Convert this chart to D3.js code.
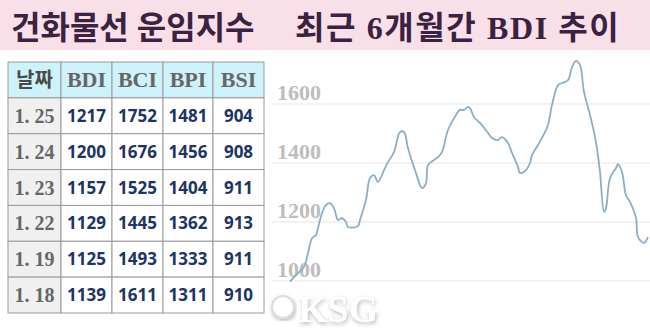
<!DOCTYPE html>
<html>
<head>
<meta charset="utf-8">
<script src="https://cdn.jsdelivr.net/npm/d3@7"></script>
<style>
  body { margin: 0; background: #fff; }
  svg { display: block; }
</style>
</head>
<body>
<div id="chart"></div>
<script>
const width = 650, height = 332;

// table data
const dates = ["1. 25", "1. 24", "1. 23", "1. 22", "1. 19", "1. 18"];
const indexNames = ["BDI", "BCI", "BPI", "BSI"];
const bdiVals = [1217, 1200, 1157, 1129, 1125, 1139];
const bciVals = [1752, 1676, 1525, 1445, 1493, 1611];
const bpiVals = [1481, 1456, 1404, 1362, 1333, 1311];
const bsiVals = [904, 908, 911, 913, 911, 910];

// 6 month BDI line (day offset, value)
const lineDays = [0, 3, 7, 9, 11, 13, 14, 16, 18, 20, 22, 24, 26, 28, 29, 34, 35, 38, 40, 42, 44, 47, 49, 52,
  55, 57, 59, 63, 66, 68, 69, 72, 74, 76, 79, 83, 85, 87, 89, 90, 92, 95, 99, 101, 104, 106, 109, 111,
  114, 115, 118, 120, 121, 124, 126, 129, 131, 134, 136, 139, 141, 143, 145, 147, 150, 153, 155, 157,
  158, 160, 163, 164, 166, 168, 170, 173, 174, 177, 179];
const lineVals = [998, 1020, 1048, 1095, 1145, 1156, 1180, 1230, 1258, 1264, 1247, 1207, 1213, 1200, 1183, 1186, 1207, 1275, 1349, 1359, 1336, 1376, 1403, 1437,
  1505, 1505, 1450, 1366, 1315, 1332, 1393, 1410, 1420, 1437, 1512, 1563, 1580, 1580, 1590, 1586, 1556, 1536, 1502, 1485, 1478, 1488, 1468, 1434,
  1387, 1366, 1376, 1400, 1427, 1461, 1485, 1529, 1597, 1664, 1671, 1681, 1725, 1746, 1732, 1641, 1563, 1471, 1369,
  1234, 1247, 1349, 1383, 1396, 1369, 1291, 1268, 1214, 1149, 1129, 1149];
const yTicks = [1000, 1200, 1400, 1600];

const titleLeft = "건화물선 운임지수";
const titleRight = "최근 6개월간 BDI 추이";

const svg = d3.select("#chart").append("svg")
    .attr("width", width)
    .attr("height", height);

// pink title band
svg.append("rect")
    .attr("x", 0).attr("y", 0)
    .attr("width", width).attr("height", 50)
    .attr("fill", "#f9dfe8");

svg.selectAll("text.title")
    .data([{t: titleLeft, x: 11, ls: 0}, {t: titleRight, x: 295, ls: 1.6}])
    .enter().append("text")
    .attr("class", "title")
    .attr("x", d => d.x)
    .attr("y", 39)
    .attr("fill", "#3a2240")
    .style("font-family", "'Liberation Serif', 'Noto Sans CJK KR', serif")
    .style("font-weight", "bold")
    .style("font-size", "32px")
    .style("letter-spacing", d => d.ls + "px")
    .text(d => d.t);

// ---- line chart ----
const x = d3.scaleLinear().domain([0, 180]).range([290, 650]);
const y = d3.scaleLinear().domain([1000, 1600]).range([281, 104]);

const grid = svg.append("g");
grid.selectAll("line")
    .data(yTicks)
    .enter().append("line")
    .attr("x1", 272).attr("x2", width)
    .attr("y1", d => y(d)).attr("y2", d => y(d))
    .attr("stroke", "#e6e6e6")
    .attr("stroke-width", 1);

grid.selectAll("text")
    .data(yTicks)
    .enter().append("text")
    .attr("x", 277)
    .attr("y", d => y(d) - 4)
    .attr("fill", "#bdbdbd")
    .style("font-family", "'Liberation Serif', serif")
    .style("font-weight", "bold")
    .style("font-size", "22px")
    .text(d => d);

const points = lineDays.map((d, i) => ({day: d, value: lineVals[i]}));
const line = d3.line()
    .x(d => x(d.day))
    .y(d => y(d.value))
    .curve(d3.curveCatmullRom);

svg.append("path")
    .datum(points)
    .attr("fill", "none")
    .attr("stroke", "#8cadc6")
    .attr("stroke-width", 1.8)
    .attr("d", line);

// faint KSG watermark
const defs = svg.append("defs");
const f = defs.append("filter").attr("id", "shadow");
f.append("feDropShadow")
    .attr("dx", 1).attr("dy", 2)
    .attr("stdDeviation", 2)
    .attr("flood-color", "#999")
    .attr("flood-opacity", 0.7);
svg.append("circle")
    .attr("cx", 283).attr("cy", 307).attr("r", 11)
    .attr("fill", "#fff").attr("stroke", "#ddd").attr("stroke-width", 2)
    .attr("filter", "url(#shadow)");
svg.append("text")
    .attr("x", 298).attr("y", 322)
    .attr("fill", "#fff")
    .attr("filter", "url(#shadow)")
    .style("font-family", "'Liberation Serif', serif")
    .style("font-weight", "bold")
    .style("font-size", "38px")
    .text("KSG");

// ---- table ----
const colX = [8, 61, 112, 163, 213, 264];
const rowsY = d3.scaleBand().domain(d3.range(7)).range([62, 313]);

const table = svg.append("g");
const rows = [["날짜"].concat(indexNames)].concat(dates.map((d, i) =>
    [d, bdiVals[i], bciVals[i], bpiVals[i], bsiVals[i]]));

rows.forEach((row, r) => {
  row.forEach((cell, c) => {
    const x0 = colX[c], x1 = colX[c + 1];
    const y0 = rowsY(r), h = rowsY.bandwidth();
    let fill = "#fff";
    if (r === 0) fill = "#cdf2fb";
    else if (c === 0) fill = "#f0f0f0";
    table.append("rect")
        .attr("x", x0).attr("y", y0)
        .attr("width", x1 - x0).attr("height", h)
        .attr("fill", fill)
        .attr("stroke", "#9a9a9a")
        .attr("stroke-width", 1);
    const t = table.append("text")
        .attr("x", (x0 + x1) / 2)
        .attr("y", y0 + h / 2 + 7)
        .attr("text-anchor", "middle")
        .style("font-weight", "bold")
        .text(cell);
    if (r === 0 && c === 0) {
      t.attr("fill", "#4a4a4a")
       .style("font-family", "'Noto Sans CJK KR', sans-serif")
       .style("font-size", "20px");
    } else if (r === 0 || c === 0) {
      t.attr("fill", "#666")
       .style("font-family", "'Liberation Serif', serif")
       .style("font-size", r === 0 ? "22px" : "20px");
    } else {
      t.attr("fill", "#1c3566")
       .attr("y", y0 + h / 2 + 6)
       .style("font-family", "'Noto Sans', sans-serif")
       .style("font-size", "17px");
    }
  });
});
</script>
</body>
</html>
